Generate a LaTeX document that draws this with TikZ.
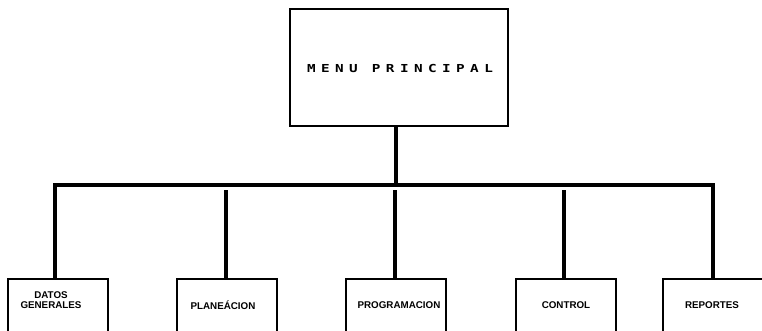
\documentclass[tikz,border=0pt]{standalone}
\usepackage{fontspec}
\setmainfont{Liberation Sans}
\newfontfamily\menufont[LetterSpace=38]{DejaVu Sans Mono}
\begin{document}
\begin{tikzpicture}[x=1pt,y=-1pt,
  every node/.style={inner sep=0pt},
  mainbox/.style={draw,line width=1.6pt,minimum width=218pt,minimum height=117pt,anchor=north west},
  subbox/.style={draw,line width=1.6pt,minimum width=100pt,minimum height=70pt,anchor=north west},
  sublabel/.style={font=\bfseries\fontsize{9.8}{10.5}\selectfont,align=center},
  menulabel/.style={font=\menufont\bfseries\fontsize{11}{12}\selectfont,xscale=1.3,transform shape},
  link/.style={line width=3.2pt}]
  \clip (0,0) rectangle (762,331);
  \fill[white] (0,0) rectangle (762,331);

  % main menu box
  \node[mainbox] (menu) at (289,8) {};
  \node[menulabel] (menutxt) at (400,68) {MENU PRINCIPAL};

  % option boxes (their lower edges run off the page)
  \node[subbox] (datos) at (7,278) {};
  \node[subbox] (plan)  at (176,278) {};
  \node[subbox] (prog)  at (345,278) {};
  \node[subbox] (ctrl)  at (515,278) {};
  \node[subbox] (rep)   at (662,278) {};

  \node[sublabel] (datostxt) at (51,300) {DATOS\\GENERALES};
  \node[sublabel] (plantxt)  at (223,305) {PLANEÁCION};
  \node[sublabel] (progtxt)  at (399,305) {PROGRAMACION};
  \node[sublabel] (ctrltxt)  at (566,305) {CONTROL};
  \node[sublabel] (reptxt)   at (712,305) {REPORTES};

  % bus and branches
  \coordinate (busL) at (55,185);
  \coordinate (busR) at (713,185);
  \coordinate (busC) at (396,185);
  \draw[link] (menu.south -| busC) -- (busC);
  \draw[link,line join=miter] (datos.north -| busL) -- (busL) -- (busR) -- (rep.north -| busR);
  \draw[link] (plan.north -| 226,0) -- (226,190);
  \draw[link] (prog.north -| 395,0) -- (395,190);
  \draw[link] (ctrl.north -| 564,0) -- (564,190);
\end{tikzpicture}
\end{document}
